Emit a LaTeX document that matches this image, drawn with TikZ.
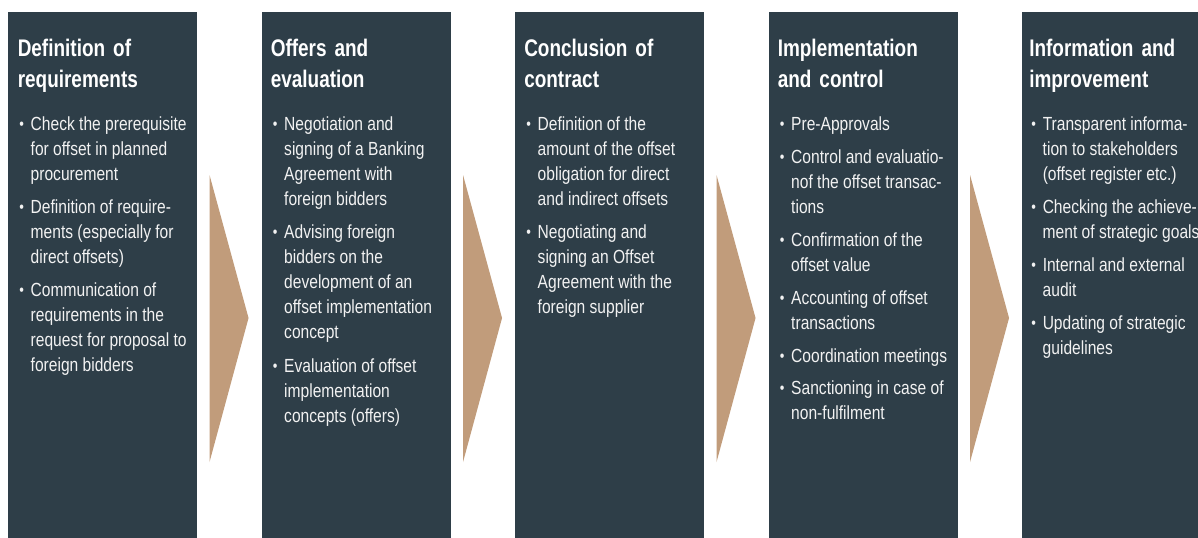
\documentclass[tikz,border=0pt]{standalone}
\usepackage{fontspec}
\setmainfont{Liberation Sans}[FakeStretch=0.82]
\newfontfamily\headfont{Liberation Sans}[FakeStretch=0.79, WordSpace=0.8]
\usetikzlibrary{calc}

\definecolor{panelfill}{HTML}{2E3E48}
\definecolor{chevronfill}{HTML}{C19C7B}
\definecolor{lighttext}{HTML}{F2F2F2}

\tikzset{
  panel/.style={fill=panelfill, draw=none, anchor=north west, inner sep=0pt,
    minimum width=141.75pt, minimum height=400pt},
  heading/.style={anchor=base west, inner sep=0pt, text width=160pt, align=left,
    text=white, font=\headfont\bfseries\fontsize{18pt}{23.25pt}\selectfont},
  point/.style={anchor=base west, inner sep=0pt,
    text=lighttext, font=\fontsize{14.25pt}{18.75pt}\selectfont},
}

% bullet followed by a block of lines that hang under the first one
\newcommand{\bul}[1]{\makebox[8.6pt][l]{\raisebox{0.6pt}{\fontsize{12pt}{12pt}\selectfont •}}%
  \begin{tabular}[t]{@{}l@{}}#1\end{tabular}}
% tan chevron between two panels
\newcommand{\chevronafter}[1]{%
  \fill[chevronfill] ($(#1.north east)+(12,163.5)$) -- ($(#1.north east)+(51,306.5)$)
    -- ($(#1.north east)+(12,450.5)$) -- cycle;}

\begin{document}
\begin{tikzpicture}[x=0.75pt, y=-0.75pt]
  \useasboundingbox (0,0) rectangle (1198,537);
  \fill[white] (0,0) rectangle (1198,537);
  \clip (0,0) rectangle (1198,537);

  % panels
  \node[panel] (p1) at (8,11.5) {};
  \node[panel] (p2) at (261.5,11.5) {};
  \node[panel] (p3) at (515,11.5) {};
  \node[panel] (p4) at (768.5,11.5) {};
  \node[panel] (p5) at (1022,11.5) {};

  % chevrons
  \chevronafter{p1}
  \chevronafter{p2}
  \chevronafter{p3}
  \chevronafter{p4}

  % panel 1
  \node[heading] (h1) at (17.5,56) {Definition of\\requirements};
  \node[point] (a1) at (19,130) {\bul{Check the prerequisite\\for offset in planned\\procurement}};
  \node[point] (a2) at (19,213) {\bul{Definition of require-\\ments (especially for\\direct offsets)}};
  \node[point] (a3) at (19,296) {\bul{Communication of\\requirements in the\\request for proposal to\\foreign bidders}};

  % panel 2
  \node[heading] (h2) at (270.5,56) {Offers and\\evaluation};
  \node[point] (b1) at (272.5,130) {\bul{Negotiation and\\signing of a Banking\\Agreement with\\foreign bidders}};
  \node[point] (b2) at (272.5,238) {\bul{Advising foreign\\bidders on the\\development of an\\offset implementation\\concept}};
  \node[point] (b3) at (272.5,372) {\bul{Evaluation of offset\\implementation\\concepts (offers)}};

  % panel 3
  \node[heading] (h3) at (524,56) {Conclusion of\\contract};
  \node[point] (c1) at (526,130) {\bul{Definition of the\\amount of the offset\\obligation for direct\\and indirect offsets}};
  \node[point] (c2) at (526,238) {\bul{Negotiating and\\signing an Offset\\Agreement with the\\foreign supplier}};

  % panel 4
  \node[heading] (h4) at (777.5,56) {Implementation\\and control};
  \node[point] (d1) at (779.5,130) {\bul{Pre-Approvals}};
  \node[point] (d2) at (779.5,163) {\bul{Control and evaluatio-\\nof the offset transac-\\tions}};
  \node[point] (d3) at (779.5,246) {\bul{Confirmation of the\\offset value}};
  \node[point] (d4) at (779.5,304) {\bul{Accounting of offset\\transactions}};
  \node[point] (d5) at (779.5,362) {\bul{Coordination meetings}};
  \node[point] (d6) at (779.5,394) {\bul{Sanctioning in case of\\non-fulfilment}};

  % panel 5
  \node[heading] (h5) at (1029,56) {Information and\\improvement};
  \node[point] (e1) at (1031,130) {\bul{Transparent informa-\\tion to stakeholders\\(offset register etc.)}};
  \node[point] (e2) at (1031,213) {\bul{Checking the achieve-\\ment of strategic goals}};
  \node[point] (e3) at (1031,271) {\bul{Internal and external\\audit}};
  \node[point] (e4) at (1031,329) {\bul{Updating of strategic\\guidelines}};
\end{tikzpicture}
\end{document}
